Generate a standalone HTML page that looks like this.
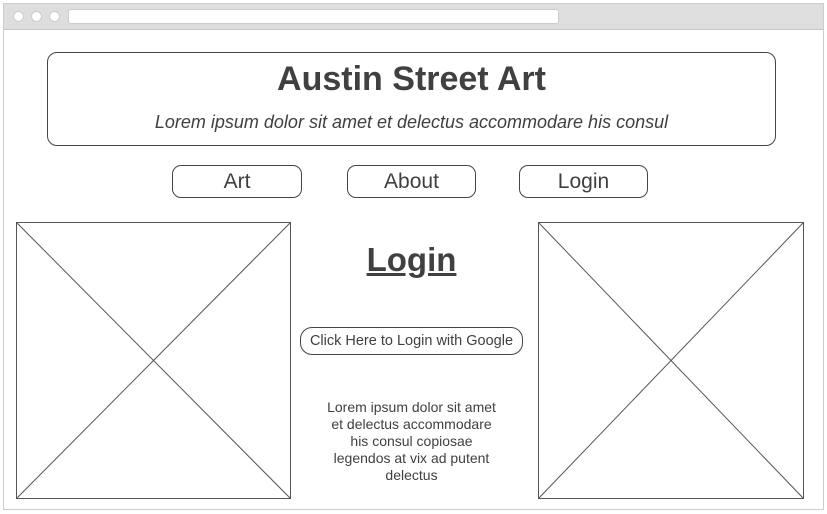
<!DOCTYPE html>
<html><head><style>
body{margin:0;width:827px;height:514px;background:#fff;font-family:"Liberation Sans",sans-serif;color:#404040;overflow:hidden;position:relative}
.a{position:absolute}
.btn{position:absolute;border:1px solid #444;border-radius:9px;text-align:center;font-size:21px;height:33px;box-sizing:border-box;line-height:32px}
</style></head><body>
<div class="a" style="left:3px;top:3px;width:819px;height:505px;border:1px solid #ccc;background:#fff"></div>
<div class="a" style="left:4px;top:4px;width:819px;height:25px;background:#dedede;border-bottom:1px solid #c8c8c8"></div>
<div class="a" style="left:13px;top:11px;width:11px;height:11px;border-radius:50%;background:#fff;border:1px solid #ccc;box-sizing:border-box"></div>
<div class="a" style="left:31px;top:11px;width:11px;height:11px;border-radius:50%;background:#fff;border:1px solid #ccc;box-sizing:border-box"></div>
<div class="a" style="left:49px;top:11px;width:11px;height:11px;border-radius:50%;background:#fff;border:1px solid #ccc;box-sizing:border-box"></div>
<div class="a" style="left:68px;top:9px;width:491px;height:15px;background:#fff;border:1px solid #ccc;border-radius:3px;box-sizing:border-box"></div>
<div class="a" style="left:47px;top:52px;width:729px;height:94px;border:1px solid #444;border-radius:10px;box-sizing:border-box"></div>
<div class="a" style="left:47px;top:58px;width:729px;text-align:center;font-size:34px;font-weight:bold;line-height:42px">Austin Street Art</div>
<div class="a" style="left:47px;top:111px;width:729px;text-align:center;font-size:18px;font-style:italic;line-height:22px">Lorem ipsum dolor sit amet et delectus accommodare his consul</div>
<div class="btn" style="left:172px;top:165px;width:130px">Art</div>
<div class="btn" style="left:347px;top:165px;width:129px">About</div>
<div class="btn" style="left:519px;top:165px;width:129px">Login</div>
<svg class="a" style="left:0;top:0" width="827" height="514">
<g stroke="#555" stroke-width="1" fill="none">
<rect x="16.5" y="222.5" width="274" height="276"/>
<line x1="16.5" y1="222.5" x2="290.5" y2="498.5"/><line x1="290.5" y1="222.5" x2="16.5" y2="498.5"/>
<rect x="538.5" y="222.5" width="265" height="276"/>
<line x1="538.5" y1="222.5" x2="803.5" y2="498.5"/><line x1="803.5" y1="222.5" x2="538.5" y2="498.5"/>
</g></svg>
<div class="a" style="left:291px;top:239px;width:241px;text-align:center;font-size:33px;font-weight:bold;text-decoration:underline;line-height:42px">Login</div>
<div class="a" style="left:300px;top:327px;width:223px;height:28px;border:1px solid #444;border-radius:12px;box-sizing:border-box;text-align:center;font-size:14.5px;line-height:27px">Click Here to Login with Google</div>
<div class="a" style="left:291px;top:399px;width:241px;text-align:center;font-size:14px;line-height:17px">Lorem ipsum dolor sit amet<br>et delectus accommodare<br>his consul copiosae<br>legendos at vix ad putent<br>delectus</div>
</body></html>
